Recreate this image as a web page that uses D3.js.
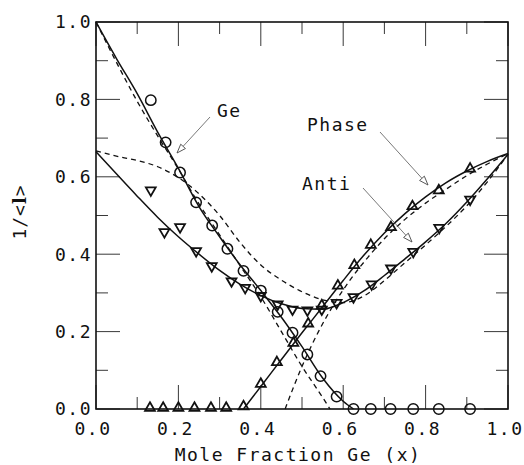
<!DOCTYPE html>
<html>
<head>
<meta charset="utf-8">
<script src="https://cdn.jsdelivr.net/npm/d3@7"></script>
<style>
  body { margin: 0; background: #fff; }
  text { font-family: "DejaVu Sans Mono", "Liberation Mono", monospace; fill: #111; }
</style>
</head>
<body>
<div id="chart"></div>
<script>
// ---- data ----
// Ge (open circles)
var geX = [0.133, 0.169, 0.204, 0.243, 0.282, 0.319, 0.358, 0.400, 0.441, 0.477, 0.513, 0.545, 0.584, 0.625, 0.667, 0.715, 0.770, 0.832, 0.908];
var geY = [0.798, 0.689, 0.611, 0.534, 0.474, 0.414, 0.357, 0.306, 0.251, 0.197, 0.141, 0.085, 0.032, 0.000, 0.000, 0.000, 0.000, 0.000, 0.000];

// Phase (up triangles)
var phaseX = [0.131, 0.163, 0.200, 0.239, 0.279, 0.316, 0.358, 0.400, 0.439, 0.479, 0.515, 0.548, 0.587, 0.627, 0.667, 0.716, 0.768, 0.832, 0.908];
var phaseY = [0.000, 0.000, 0.000, 0.000, 0.000, 0.000, 0.004, 0.062, 0.118, 0.168, 0.218, 0.265, 0.316, 0.369, 0.421, 0.467, 0.521, 0.562, 0.618];

// Anti (down triangles)
var antiX = [0.133, 0.166, 0.204, 0.243, 0.281, 0.329, 0.362, 0.400, 0.441, 0.477, 0.513, 0.548, 0.584, 0.625, 0.669, 0.716, 0.770, 0.833, 0.908];
var antiY = [0.568, 0.460, 0.473, 0.411, 0.372, 0.333, 0.316, 0.295, 0.273, 0.260, 0.258, 0.260, 0.277, 0.292, 0.325, 0.366, 0.409, 0.471, 0.544];

// solid fit curves
var geFitX = [0, 0.05, 0.10, 0.15, 0.20, 0.25, 0.30, 0.35, 0.40, 0.45, 0.50, 0.55, 0.60, 0.625];
var geFitY = [1.0, 0.905, 0.815, 0.715, 0.622, 0.523, 0.445, 0.372, 0.306, 0.237, 0.161, 0.080, 0.020, 0.0];
var phaseFitX = [0.358, 0.40, 0.45, 0.50, 0.55, 0.60, 0.65, 0.70, 0.75, 0.80, 0.85, 0.90, 0.95, 1.0];
var phaseFitY = [0.0, 0.058, 0.128, 0.197, 0.264, 0.332, 0.397, 0.455, 0.505, 0.548, 0.585, 0.615, 0.640, 0.660];
var antiFitX = [0, 0.05, 0.10, 0.15, 0.20, 0.25, 0.30, 0.35, 0.40, 0.45, 0.50, 0.55, 0.60, 0.65, 0.70, 0.75, 0.80, 0.85, 0.90, 0.95, 1.0];
var antiFitY = [0.665, 0.607, 0.550, 0.495, 0.445, 0.400, 0.358, 0.322, 0.293, 0.272, 0.260, 0.258, 0.275, 0.305, 0.345, 0.388, 0.432, 0.480, 0.535, 0.595, 0.658];

// dashed theory curves
var geDashX = [0, 0.05, 0.10, 0.15, 0.20, 0.25, 0.30, 0.35, 0.40, 0.45, 0.50, 0.55, 0.568];
var geDashY = [1.0, 0.895, 0.795, 0.705, 0.620, 0.530, 0.450, 0.370, 0.290, 0.200, 0.110, 0.030, 0.0];
var antiDashX = [0, 0.06, 0.10, 0.15, 0.22, 0.30, 0.35, 0.40, 0.45, 0.50, 0.55, 0.60, 0.65, 0.70, 0.75, 0.80, 0.85, 0.90, 0.95, 1.0];
var antiDashY = [0.667, 0.651, 0.642, 0.626, 0.583, 0.500, 0.430, 0.372, 0.333, 0.303, 0.282, 0.275, 0.292, 0.332, 0.378, 0.424, 0.472, 0.525, 0.587, 0.658];
var phaseDashX = [0.459, 0.50, 0.54, 0.58, 0.62, 0.66, 0.70, 0.75, 0.80, 0.85, 0.90, 0.95, 1.0];
var phaseDashY = [0.0, 0.110, 0.200, 0.275, 0.338, 0.392, 0.440, 0.490, 0.532, 0.568, 0.603, 0.633, 0.660];

var xTicks = [0, 0.2, 0.4, 0.6, 0.8, 1.0];
var yTicks = [0, 0.2, 0.4, 0.6, 0.8, 1.0];

// ---- work area ----
var svgWidth = 524;
var svgHeight = 465;
var margin = { top: 22, right: 16, bottom: 56, left: 96 };
var width = svgWidth - margin.left - margin.right;
var height = svgHeight - margin.top - margin.bottom;

var svg = d3.select("#chart")
    .append("svg")
    .attr("width", svgWidth)
    .attr("height", svgHeight);

var g = svg.append("g")
    .attr("transform", `translate(${margin.left}, ${margin.top})`);

var xScale = d3.scaleLinear().domain([0, 1]).range([0, width]);
var yScale = d3.scaleLinear().domain([0, 1]).range([height, 0]);

// ticks, inward, on all four sides (major every 0.2, minor every 0.1)
var minorX = d3.range(0.1, 1.0, 0.2);
function tickLen(major) { return major ? 24 : 12; }

var tickG = g.append("g").attr("stroke", "#222").attr("stroke-width", 0.9);
xTicks.concat(minorX).forEach(function (t) {
    var major = xTicks.indexOf(t) >= 0;
    tickG.append("line")
        .attr("x1", xScale(t)).attr("x2", xScale(t))
        .attr("y1", height).attr("y2", height - tickLen(major));
    tickG.append("line")
        .attr("x1", xScale(t)).attr("x2", xScale(t))
        .attr("y1", 0).attr("y2", tickLen(major));
    tickG.append("line")
        .attr("y1", yScale(t)).attr("y2", yScale(t))
        .attr("x1", 0).attr("x2", tickLen(major));
    tickG.append("line")
        .attr("y1", yScale(t)).attr("y2", yScale(t))
        .attr("x1", width).attr("x2", width - tickLen(major));
});

// frame
g.append("rect")
    .attr("width", width)
    .attr("height", height)
    .attr("fill", "none")
    .attr("stroke", "#111")
    .attr("stroke-width", 1.6);

// tick labels
g.selectAll(".xlab")
    .data(xTicks)
    .enter()
    .append("text")
    .attr("x", d => xScale(d) - 3)
    .attr("y", height + 26)
    .attr("text-anchor", "middle")
    .attr("font-size", "18px")
    .attr("letter-spacing", "1.5px")
    .text(d => d3.format(".1f")(d));

g.selectAll(".ylab")
    .data(yTicks)
    .enter()
    .append("text")
    .attr("x", -4)
    .attr("y", d => yScale(d))
    .attr("dy", "0.36em")
    .attr("text-anchor", "end")
    .attr("font-size", "18px")
    .attr("letter-spacing", "1.5px")
    .text(d => d3.format(".1f")(d));

// axis titles
g.append("text")
    .attr("x", width / 2 - 4)
    .attr("y", height + 52)
    .attr("text-anchor", "middle")
    .attr("font-size", "18px")
    .attr("letter-spacing", "1.5px")
    .text("Mole Fraction Ge (x)");

var yTitle = svg.append("text")
    .attr("transform", "translate(26, 212) rotate(-90)")
    .attr("text-anchor", "middle")
    .attr("font-size", "18px")
    .attr("letter-spacing", "1px");
yTitle.append("tspan").text("1/<");
yTitle.append("tspan").attr("font-weight", "bold").attr("font-family", "DejaVu Serif").text("l");
yTitle.append("tspan").text(">");

// ---- curves ----
function pairs(xs, ys) { return xs.map((x, i) => [x, ys[i]]); }

var line = d3.line()
    .x(d => xScale(d[0]))
    .y(d => yScale(d[1]))
    .curve(d3.curveMonotoneX);

var curves = [
    { xs: geDashX, ys: geDashY, dash: "5,4" },
    { xs: antiDashX, ys: antiDashY, dash: "5,4" },
    { xs: phaseDashX, ys: phaseDashY, dash: "5,4" },
    { xs: geFitX, ys: geFitY, dash: null },
    { xs: antiFitX, ys: antiFitY, dash: null },
    { xs: phaseFitX, ys: phaseFitY, dash: null }
];

curves.forEach(function (c) {
    g.append("path")
        .datum(pairs(c.xs, c.ys))
        .attr("d", line)
        .attr("fill", "none")
        .attr("stroke", "#111")
        .attr("stroke-width", c.dash ? 1.3 : 1.5)
        .attr("stroke-dasharray", c.dash);
});

// ---- markers ----
g.selectAll(".ge")
    .data(pairs(geX, geY))
    .enter()
    .append("circle")
    .attr("cx", d => xScale(d[0]))
    .attr("cy", d => yScale(d[1]))
    .attr("r", 5.2)
    .attr("fill", "none")
    .attr("stroke", "#111")
    .attr("stroke-width", 1.5);

var triSym = d3.symbol().type(d3.symbolTriangle).size(42);

g.selectAll(".phase")
    .data(pairs(phaseX, phaseY))
    .enter()
    .append("path")
    .attr("d", triSym)
    .attr("transform", d => `translate(${xScale(d[0])}, ${yScale(d[1]) - 1})`)
    .attr("fill", "none")
    .attr("stroke", "#111")
    .attr("stroke-width", 1.8);

g.selectAll(".anti")
    .data(pairs(antiX, antiY))
    .enter()
    .append("path")
    .attr("d", triSym)
    .attr("transform", d => `translate(${xScale(d[0])}, ${yScale(d[1]) + 1}) rotate(180)`)
    .attr("fill", "none")
    .attr("stroke", "#111")
    .attr("stroke-width", 1.8);

// ---- annotations with hollow arrow heads ----
var notes = [
    { label: "Ge", tx: 217, ty: 117, x1: 210, y1: 117, x2: 177, y2: 153 },
    { label: "Phase", tx: 307, ty: 131, x1: 380, y1: 132, x2: 428, y2: 185 },
    { label: "Anti", tx: 302, ty: 190, x1: 363, y1: 188, x2: 412, y2: 242 }
];

notes.forEach(function (n) {
    svg.append("text")
        .attr("x", n.tx)
        .attr("y", n.ty)
        .attr("font-size", "18px")
        .attr("letter-spacing", "1.5px")
        .text(n.label);

    var ang = Math.atan2(n.y2 - n.y1, n.x2 - n.x1);
    var len = 9, half = 3.2;
    var bx = n.x2 - len * Math.cos(ang), by = n.y2 - len * Math.sin(ang);
    svg.append("line")
        .attr("x1", n.x1).attr("y1", n.y1)
        .attr("x2", bx).attr("y2", by)
        .attr("stroke", "#555")
        .attr("stroke-width", 0.8);
    var pts = [
        [n.x2, n.y2],
        [bx - half * Math.sin(ang), by + half * Math.cos(ang)],
        [bx + half * Math.sin(ang), by - half * Math.cos(ang)]
    ];
    svg.append("polygon")
        .attr("points", pts.map(p => p.join(",")).join(" "))
        .attr("fill", "#fff")
        .attr("stroke", "#444")
        .attr("stroke-width", 0.9);
});
</script>
</body>
</html>
